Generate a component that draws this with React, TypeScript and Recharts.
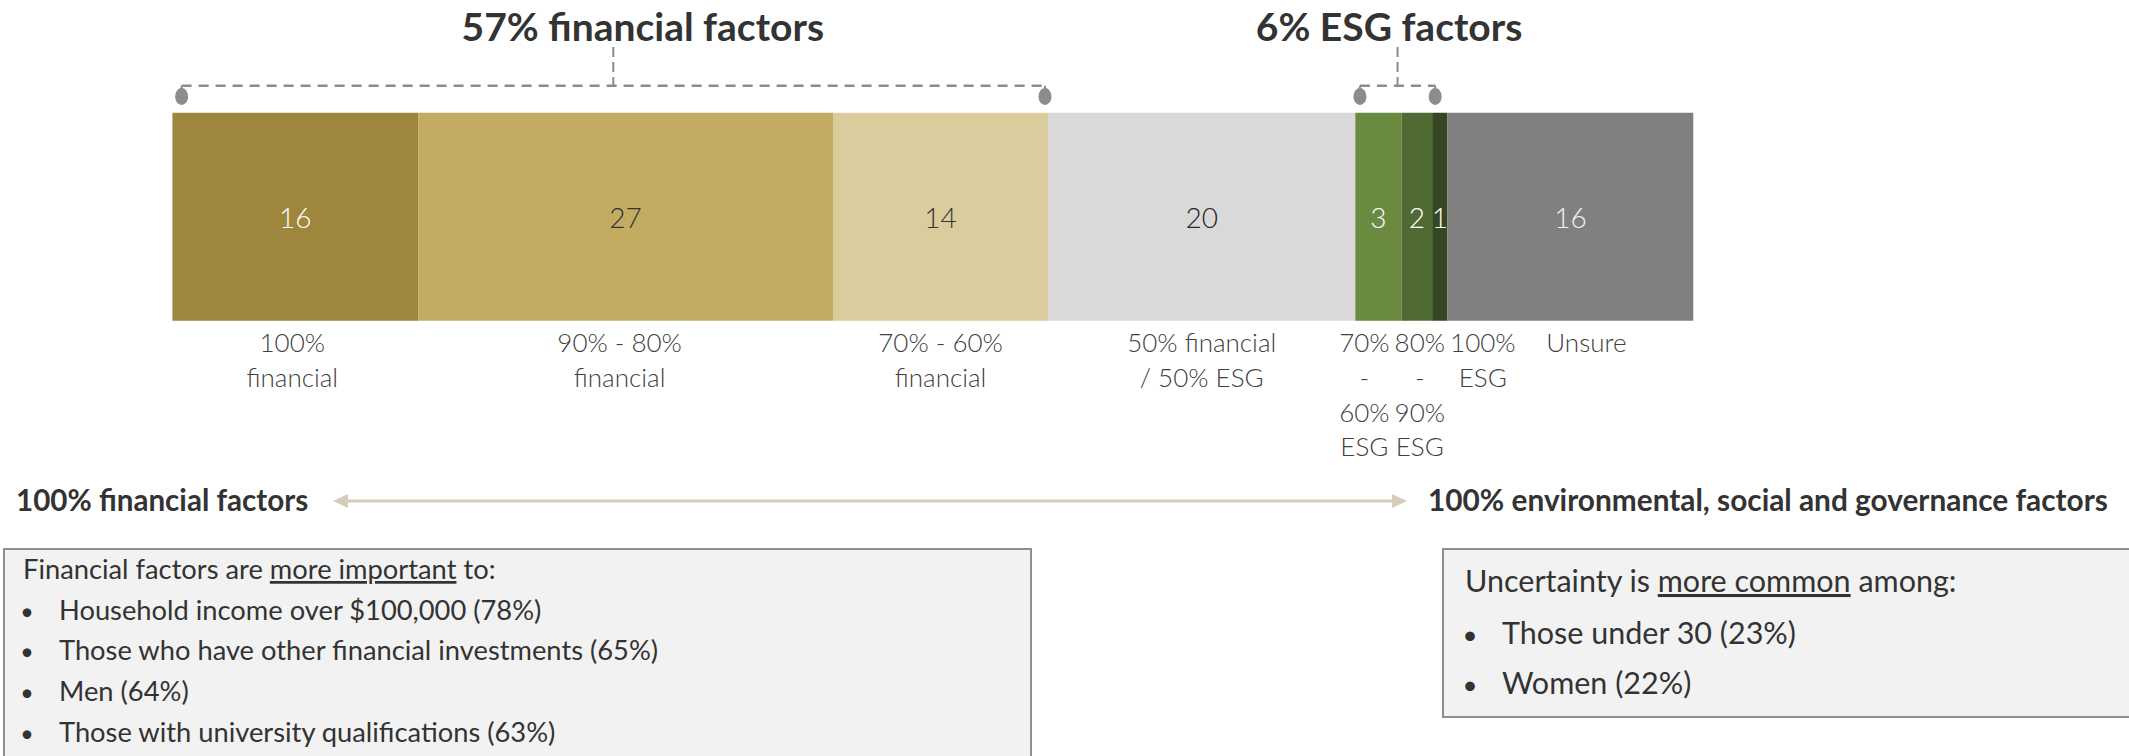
import React from 'react';
import { BarChart, Bar, XAxis, YAxis, LabelList } from 'recharts';

// ---------- data ----------
const SEGMENT_KEYS = ['f100', 'f90', 'f70', 'f50', 'e70', 'e80', 'e100', 'unsure'];
const SEGMENT_VALUES = [16, 27, 14, 20, 3, 2, 1, 16];
const SEGMENT_LABELS = [
  ['100%', 'financial'],
  ['90% - 80%', 'financial'],
  ['70% - 60%', 'financial'],
  ['50% financial', '/ 50% ESG'],
  ['70%', '-', '60%', 'ESG'],
  ['80%', '-', '90%', 'ESG'],
  ['100%', 'ESG'],
  ['Unsure'],
];
const BRACKET_TITLES = ['57% financial factors', '6% ESG factors'];
const BRACKET_FROM = [0.6, 77.3];
const BRACKET_TO = [56.8, 82.2];
const SCALE_LEFT_LABEL = '100% financial factors';
const SCALE_RIGHT_LABEL = '100% environmental, social and governance factors';
const LEFT_BOX_HEADER = ['Financial factors are ', 'more important', ' to:'];
const LEFT_BOX_ITEMS = [
  'Household income over $100,000 (78%)',
  'Those who have other financial investments (65%)',
  'Men (64%)',
  'Those with university qualifications (63%)',
];
const RIGHT_BOX_HEADER = ['Uncertainty is ', 'more common', ' among:'];
const RIGHT_BOX_ITEMS = ['Those under 30 (23%)', 'Women (22%)'];

const TOTAL = SEGMENT_VALUES.reduce((a, b) => a + b, 0);
const row: Record<string, any> = { name: 'all' };
SEGMENT_KEYS.forEach((k, i) => (row[k] = SEGMENT_VALUES[i]));
const chartData = [row];

// ---------- styles ----------
const W = 2129;
const H = 756;
const PLOT = { left: 172.4, right: 1693.3, top: 112.7, bottom: 320.4 };
const FONT = 'Lato, "Open Sans", sans-serif';
const TEXT = '#333333';
const SEG_COLORS = ['#9E863C', '#C3AB62', '#DBCC9D', '#D9D9D9', '#6A8A3F', '#4F6A32', '#344722', '#808080'];
const VALUE_COLORS = ['#FFFFFF', '#333333', '#333333', '#262626', '#FFFFFF', '#FFFFFF', '#FFFFFF', '#F2F2F2'];
const LABEL_DX = [-3, -6, 0, 0, -14, 3, 43, 16];
const TITLE_DX = [29.5, -8.5];
const DASH_COLOR = '#8C8C8C';
const ARROW_COLOR = '#D6CDB8';

const xOf = (v: number) => PLOT.left + (v / TOTAL) * (PLOT.right - PLOT.left);

const makeValueLabel = (i: number) => (props: any) => {
  const { x, y, width, height } = props;
  return (
    <text
      x={Number(x) + Number(width) / 2}
      y={Number(y) + Number(height) / 2}
      textAnchor="middle"
      dominantBaseline="central"
      fontFamily={FONT}
      fontWeight={300}
      fontSize={28}
      fill={VALUE_COLORS[i]}
    >
      {SEGMENT_VALUES[i]}
    </text>
  );
};

const makeCategoryLabel = (i: number) => (props: any) => {
  const { x, y, width, height } = props;
  const cx = Number(x) + Number(width) / 2 + LABEL_DX[i];
  const base = Number(y) + Number(height) + 31.3;
  return (
    <text textAnchor="middle" fontFamily={FONT} fontWeight={300} fontSize={26} fill="#404040">
      {SEGMENT_LABELS[i].map((line, j) => (
        <tspan key={j} x={cx} y={base + j * 34.8}>
          {line}
        </tspan>
      ))}
    </text>
  );
};

const Bracket = ({ idx }: { idx: number }) => {
  const x1 = xOf(BRACKET_FROM[idx]);
  const x2 = xOf(BRACKET_TO[idx]);
  const mid = (x1 + x2) / 2;
  const ly = 85.7;
  return (
    <g>
      <text
        x={mid + TITLE_DX[idx]}
        y={41}
        textAnchor="middle"
        fontFamily={FONT}
        fontWeight={700}
        fontSize={39}
        fill={TEXT}
      >
        {BRACKET_TITLES[idx]}
      </text>
      <line x1={x1} y1={ly} x2={x2} y2={ly} stroke={DASH_COLOR} strokeWidth={2.6} strokeDasharray="10 7" />
      <line x1={mid} y1={47} x2={mid} y2={ly} stroke={DASH_COLOR} strokeWidth={2} strokeDasharray="10 5" />
      {[x1, x2].map((x, k) => (
        <g key={k}>
          <line x1={x} y1={ly} x2={x} y2={92} stroke={DASH_COLOR} strokeWidth={2} />
          <ellipse cx={x} cy={96.5} rx={6.5} ry={8.5} fill={DASH_COLOR} />
        </g>
      ))}
    </g>
  );
};

const BoxText = ({
  header,
  items,
  x,
  headerY,
  bulletX,
  textX,
  itemY,
  size,
}: {
  header: string[];
  items: string[];
  x: number;
  headerY: number;
  bulletX: number;
  textX: number;
  itemY: number[];
  size: number;
}) => (
  <g fontFamily={FONT} fontSize={size} fill={TEXT}>
    <text x={x} y={headerY}>
      <tspan>{header[0]}</tspan>
      <tspan style={{ textDecoration: 'underline' }}>{header[1]}</tspan>
      <tspan>{header[2]}</tspan>
    </text>
    {items.map((t, i) => (
      <g key={i}>
        <text x={bulletX} y={itemY[i]} textAnchor="middle" fontSize={size * 0.85}>
          •
        </text>
        <text x={textX} y={itemY[i]}>
          {t}
        </text>
      </g>
    ))}
  </g>
);

export default function App() {
  return (
    <div style={{ position: 'absolute', left: 0, top: 0, width: W, height: H, overflow: 'hidden', background: '#fff' }}>
      <BarChart
        width={W}
        height={H}
        data={chartData}
        layout="vertical"
        barCategoryGap={0}
        margin={{ top: PLOT.top, bottom: H - PLOT.bottom, left: PLOT.left, right: W - PLOT.right }}
      >
        <XAxis type="number" domain={[0, TOTAL]} hide />
        <YAxis type="category" dataKey="name" hide />
        {SEGMENT_KEYS.map((k, i) => (
          <Bar key={k} dataKey={k} stackId="s" fill={SEG_COLORS[i]} isAnimationActive={false}>
            <LabelList dataKey={k} content={makeValueLabel(i)} />
            <LabelList dataKey={k} content={makeCategoryLabel(i)} />
          </Bar>
        ))}
      </BarChart>
      <svg
        width={W}
        height={H}
        style={{ position: 'absolute', left: 0, top: 0, pointerEvents: 'none' }}
      >
        <Bracket idx={0} />
        <Bracket idx={1} />

        {/* scale row */}
        <text x={16} y={511} fontFamily={FONT} fontWeight={700} fontSize={29.6} fill={TEXT}>
          {SCALE_LEFT_LABEL}
        </text>
        <text x={1428} y={511} fontFamily={FONT} fontWeight={700} fontSize={29.8} fill={TEXT}>
          {SCALE_RIGHT_LABEL}
        </text>
        <line x1={345} y1={501} x2={1395} y2={501} stroke={ARROW_COLOR} strokeWidth={3} />
        <polygon points="333,501 348,494 348,508" fill={ARROW_COLOR} />
        <polygon points="1407,501 1392,494 1392,508" fill={ARROW_COLOR} />

        {/* boxes */}
        <rect x={4} y={549} width={1027} height={240} fill="#F2F2F2" stroke="#8F8F8F" strokeWidth={2} />
        <rect x={1443} y={549} width={720} height={168} fill="#F2F2F2" stroke="#8F8F8F" strokeWidth={2} />
        <BoxText
          header={LEFT_BOX_HEADER}
          items={LEFT_BOX_ITEMS}
          x={23}
          headerY={579}
          bulletX={27}
          textX={59}
          itemY={[620, 660, 701, 742]}
          size={27.3}
        />
        <BoxText
          header={RIGHT_BOX_HEADER}
          items={RIGHT_BOX_ITEMS}
          x={1465}
          headerY={592}
          bulletX={1470}
          textX={1502}
          itemY={[644, 694]}
          size={30.5}
        />
      </svg>
    </div>
  );
}
